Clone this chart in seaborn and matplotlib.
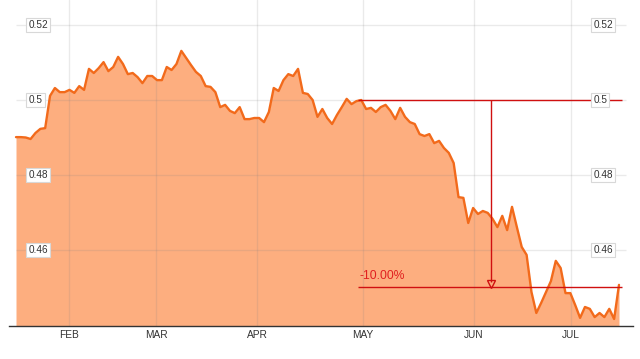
import matplotlib
matplotlib.use("Agg")
import matplotlib.pyplot as plt
import seaborn as sns
import numpy as np
import pandas as pd

# ---- data (trading-day index, price) ----
day = list(range(125))
price = [
    0.4901, 0.4901, 0.4900, 0.4896, 0.4912, 0.4923, 0.4925, 0.5011, 0.5032, 0.5021,
    0.5021, 0.5027, 0.5019, 0.5037, 0.5027, 0.5083, 0.5072, 0.5085, 0.5101, 0.5077,
    0.5088, 0.5115, 0.5096, 0.5069, 0.5072, 0.5061, 0.5045, 0.5064, 0.5064, 0.5053,
    0.5053, 0.5088, 0.5080, 0.5096, 0.5131, 0.5112, 0.5093, 0.5075, 0.5064, 0.5037,
    0.5035, 0.5021, 0.4981, 0.4987, 0.4971, 0.4965, 0.4981, 0.4949, 0.4949, 0.4952,
    0.4952, 0.4941, 0.4968, 0.5032, 0.5024, 0.5053, 0.5069, 0.5064, 0.5083, 0.5019,
    0.5016, 0.5000, 0.4955, 0.4976, 0.4952, 0.4936, 0.4960, 0.4981, 0.5003, 0.4989,
    0.4997, 0.5000, 0.4976, 0.4979, 0.4968, 0.4981, 0.4987, 0.4971, 0.4949, 0.4979,
    0.4955, 0.4941, 0.4936, 0.4909, 0.4904, 0.4909, 0.4885, 0.4891, 0.4872, 0.4859,
    0.4832, 0.4741, 0.4739, 0.4672, 0.4712, 0.4696, 0.4704, 0.4699, 0.4683, 0.4661,
    0.4691, 0.4653, 0.4715, 0.4661, 0.4608, 0.4587, 0.4488, 0.4432, 0.4459, 0.4488,
    0.4517, 0.4571, 0.4552, 0.4485, 0.4485, 0.4453, 0.4419, 0.4448, 0.4443, 0.4421,
    0.4432, 0.4421, 0.4443, 0.4416, 0.4507,
]
month_labels = ["FEB", "MAR", "APR", "MAY", "JUN", "JUL"]
month_pos = [10.9, 28.8, 49.6, 71.4, 94.2, 114.1]
ytick_vals = [0.46, 0.48, 0.50, 0.52]
ytick_labels = ["0.46", "0.48", "0.5", "0.52"]

# annotation values
ref_level = 0.50
target_level = 0.45
ann_start = 70.3
ann_end = 124.6
ann_x = 97.6
ann_text = "-10.00%"

df = pd.DataFrame({"day": day, "price": price})

sns.set_theme(style="white")
plt.rcParams["font.family"] = ["Liberation Sans", "DejaVu Sans"]

fig = plt.figure(figsize=(6.4, 3.59), dpi=100)
ax = fig.add_axes([9 / 640, 1 - 326 / 359, 624 / 640, 326 / 359])

ymin, ymax = 0.43973, 0.52667
xmin, xmax = -1.44, 126.88
ax.set_xlim(xmin, xmax)
ax.set_ylim(ymin, ymax)

line_c = "#f26a1b"
fill_c = "#fdae7f"
red = "#d01010"

ax.fill_between(df["day"], ymin, df["price"], color=fill_c, lw=0, zorder=1)
sns.lineplot(data=df, x="day", y="price", ax=ax, color=line_c, lw=1.7, zorder=3)

# grid
for m in month_pos:
    ax.axvline(m, color="#808080", alpha=0.16, lw=1, zorder=2)
ax.hlines(ytick_vals, day[0], 125.4, color="#808080", alpha=0.16, lw=1, zorder=2)

# y labels in boxes (both sides)
box = dict(boxstyle="square,pad=0.22", fc="white", ec="#d8d8d8", lw=0.8)
for v, lab in zip(ytick_vals, ytick_labels):
    ax.text(2.6, v, lab, fontsize=7.2, color="#333333", ha="left", va="center",
            bbox=box, zorder=6)
    ax.text(118.7, v, lab, fontsize=7.2, color="#333333", ha="left", va="center",
            bbox=box, zorder=6)

# annotation
ax.hlines([ref_level, target_level], ann_start, ann_end, color=red, lw=1, zorder=4)
ax.vlines(ann_x, target_level + 0.0014, ref_level, color=red, lw=1, zorder=4)
ax.plot([ann_x], [target_level + 0.0008], marker="v", ms=6, mfc="none",
        mec=red, mew=1, zorder=5)
ax.text(ann_start + 0.4, target_level + 0.0030, ann_text, color="#e02020",
        fontsize=8.7, ha="left", va="center", zorder=5)

# axes styling
ax.set_xticks(month_pos)
ax.set_xticklabels(month_labels, fontsize=7.3, color="#333333")
ax.set_yticks([])
ax.tick_params(axis="x", length=0, pad=3)
ax.set_xlabel("")
ax.set_ylabel("")
for s in ["top", "left", "right"]:
    ax.spines[s].set_visible(False)
ax.spines["bottom"].set_color("#333333")
ax.spines["bottom"].set_linewidth(1)
ax.set_facecolor("white")

fig.savefig("out.png", dpi=100)
